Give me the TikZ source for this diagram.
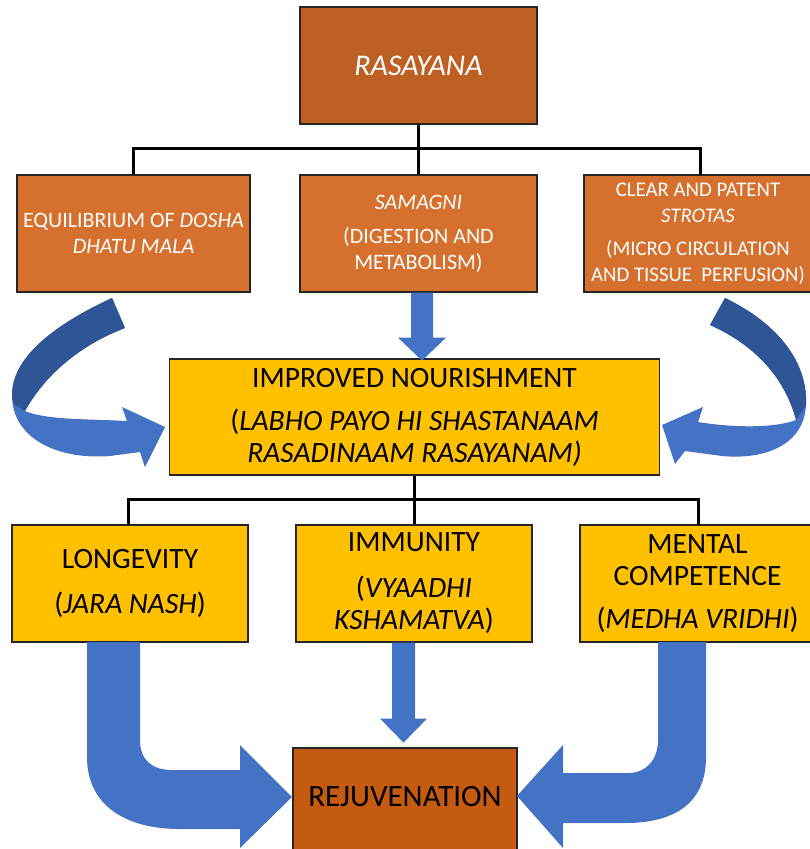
\documentclass[tikz,border=0pt]{standalone}
\usepackage{fontspec}
\setmainfont{Carlito}
\usetikzlibrary{calc}
\definecolor{rasa}{RGB}{190,95,36}
\definecolor{org}{RGB}{214,112,46}
\definecolor{gold}{RGB}{255,192,0}
\definecolor{rej}{RGB}{197,90,17}
\definecolor{blu}{RGB}{68,114,196}
\definecolor{dblu}{RGB}{47,85,151}
\begin{document}
\begin{tikzpicture}[x=1pt,y=-1pt,
  box/.style={draw=black!85, line width=1.2pt, inner sep=0pt, align=center},
  obox/.style={box, fill=org, text=white, minimum height=117pt, font=\fontsize{22}{26}\selectfont},
  gbox/.style={box, fill=gold, text=black, minimum height=117pt, font=\fontsize{29.5}{32}\selectfont},
  conn/.style={line width=3pt, draw=black},
  barrow/.style={fill=blu},
  darrow/.style={fill=dblu}]
\useasboundingbox (0,0) rectangle (810,849);
\clip (0,0) rectangle (810,849);

% boxes
\node[box, fill=rasa, text=white, minimum width=237pt, minimum height=117pt,
      font=\fontsize{30}{34}\selectfont\itshape] (ras) at (418.5,65.5) {RASAYANA};

\node[obox, minimum width=233pt] (eq) at (133.5,233.5)
  {EQUILIBRIUM OF \textit{DOSHA}\\ \textit{DHATU MALA}};
\node[obox, minimum width=237pt] (sam) at (418.5,233.5)
  {\textit{SAMAGNI}\\[8pt] (DIGESTION AND\\ METABOLISM)};
\node[obox, minimum width=228pt, font=\fontsize{20.8}{26}\selectfont] (str) at (698,233.5)
  {CLEAR AND PATENT\\ \textit{STROTAS}\\[7pt] (MICRO CIRCULATION\\ AND TISSUE\ \ PERFUSION)};

\node[gbox, minimum width=490pt, minimum height=116pt] (imp) at (414.5,417)
  {IMPROVED NOURISHMENT\\[11pt] (\textit{LABHO PAYO HI SHASTANAAM}\\ \textit{RASADINAAM RASAYANAM)}};

\node[gbox, minimum width=236pt] (lon) at (130,583.5)
  {LONGEVITY\\[13pt] (\textit{JARA NASH})};
\node[gbox, minimum width=236pt] (imm) at (414,583.5)
  {IMMUNITY\\[14pt] (\textit{VYAADHI}\\ \textit{KSHAMATVA})};
\node[gbox, minimum width=235pt] (men) at (697.5,583.5)
  {MENTAL\\ COMPETENCE\\[11pt] (\textit{MEDHA VRIDHI})};

\node[box, fill=rej, minimum width=224pt, minimum height=106pt] (rej) at (405,801) {};
\node[text=black, font=\fontsize{31}{34}\selectfont] (rejt) at (405,797) {REJUVENATION};

% tree connectors
\coordinate (h1) at (418.5,148);
\draw[conn] (ras.south) -- (ras.south |- h1);
\draw[conn] (eq.north) -- (eq.north |- h1) -- (700,148) -- (700,175);
\draw[conn] (sam.north |- h1) -- (sam.north);

\coordinate (h2) at (414,499);
\draw[conn] (imp.south) -- (imp.south |- h2);
\draw[conn] (128,525) -- (128,499) -- (698,499) -- (698,525);
\draw[conn] (imm.north |- h2) -- (imm.north);

% straight block arrows
\coordinate (a1) at ($(sam.south)+(3.5,0)$);
\fill[barrow] (a1) ++(-11,0) -- ++(22,0) -- ++(0,45) -- ++(13,0) -- ++(-24,23) -- ++(-24,-23) -- ++(13,0) -- cycle;
\coordinate (a2) at ($(imm.south)+(-10.5,0)$);
\fill[barrow] (a2) ++(-11.5,0) -- ++(23,0) -- ++(0,76) -- ++(12,0) -- ++(-23.5,24) -- ++(-23.5,-24) -- ++(12,0) -- cycle;

% curved arrows (left)
\fill[barrow] (112,298) .. controls (60,322) and (12,355) .. (12,395)
  .. controls (12,440) and (60,460) .. (110,456)
  -- (140,452) -- (145,467) -- (165,427) -- (122,407) -- (127,421)
  .. controls (90,419) and (45,420) .. (25,411)
  .. controls (45,375) and (80,345) .. (125,328) -- cycle;
\fill[darrow] (112,298) .. controls (60,322) and (12,355) .. (12,395)
  -- (14,404) -- (25,411)
  .. controls (45,375) and (80,345) .. (125,328) -- cycle;

% curved arrows (right)
\fill[barrow] (725,298) .. controls (775,322) and (808,360) .. (806,405)
  .. controls (804,445) and (765,460) .. (722,456)
  -- (685,451) -- (675,464) -- (662,425) -- (703,407) -- (698,422)
  .. controls (735,428) and (775,428) .. (796,420)
  .. controls (785,378) and (755,345) .. (710,325) -- cycle;
\fill[darrow] (725,298) .. controls (775,322) and (808,360) .. (806,405)
  -- (796,420)
  .. controls (785,378) and (755,345) .. (710,325) -- cycle;

% bent arrows to rejuvenation
\fill[barrow] (87,642) -- (87,757) .. controls (87,805) and (125,829) .. (180,829)
  -- (240,829) -- (240,848) -- (292,797) -- (240,745) -- (240,770) -- (172,770)
  .. controls (152,770) and (140,760) .. (140,740) -- (140,642) -- cycle;
\fill[barrow] (706,642) -- (706,757) .. controls (706,803) and (675,823) .. (625,823)
  -- (563,823) -- (563,848) -- (517,796) -- (563,745) -- (563,773) -- (628,773)
  .. controls (646,773) and (658,760) .. (658,740) -- (658,642) -- cycle;
\end{tikzpicture}
\end{document}
